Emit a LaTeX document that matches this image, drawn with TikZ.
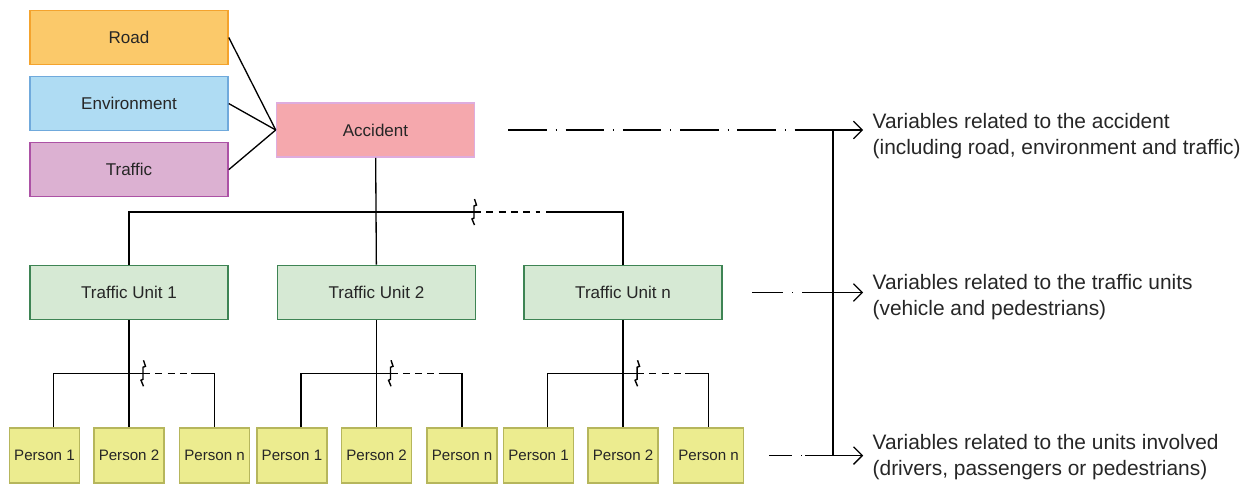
\documentclass[tikz,border=0pt]{standalone}
\usepackage{fontspec}
\setmainfont{Liberation Sans}
\usepackage{tikz}
\usetikzlibrary{positioning,calc,arrows.meta}
\definecolor{roadfill}{RGB}{251,201,106}
\definecolor{roaddraw}{RGB}{244,163,45}
\definecolor{envfill}{RGB}{175,220,243}
\definecolor{envdraw}{RGB}{112,170,220}
\definecolor{trffill}{RGB}{220,177,210}
\definecolor{trfdraw}{RGB}{172,82,165}
\definecolor{accfill}{RGB}{245,168,173}
\definecolor{accdraw}{RGB}{222,172,222}
\definecolor{unitfill}{RGB}{214,233,212}
\definecolor{unitdraw}{RGB}{62,132,84}
\definecolor{persfill}{RGB}{236,236,143}
\definecolor{persdraw}{RGB}{182,182,92}
\newcommand{\cutmark}[1]{\draw[line width=0.8pt] ($(#1)+(0.5,-13)$) -- ++(2,6) -- ++(-2.5,1) -- ++(0,12) -- ++(-2,1) -- ++(2.5,6);}

\begin{document}
\begin{tikzpicture}[x=0.02cm,y=-0.02cm,line width=0.75pt,
    font=\fontsize{9.7}{11}\selectfont,
    >={Straight Barb[length=5pt,width=10pt]}]
\tikzstyle{box}=[draw,line width=0.9pt,minimum width=3.96cm,minimum height=1.08cm,inner sep=0pt,text=black!85]
\tikzstyle{unit}=[box,fill=unitfill,draw=unitdraw]
\tikzstyle{person}=[box,fill=persfill,draw=persdraw,minimum width=1.4cm,minimum height=1.1cm,font=\fontsize{8.6}{10}\selectfont]
\tikzstyle{varlab}=[anchor=west,align=left,inner sep=0pt,text=black!85,font=\fontsize{11.9}{14.8}\selectfont]
\tikzset{chainline/.style={dash pattern=on #1 off 5pt on 0.6pt off 5pt}}

\useasboundingbox (0,0) rectangle (1250,486);

% accident and what feeds it
\node[box,fill=roadfill,draw=roaddraw] (road) at (129,37.5) {Road};
\node[box,fill=envfill,draw=envdraw,below=0.21cm of road] (env) {Environment};
\node[box,fill=trffill,draw=trfdraw,below=0.21cm of env] (trf) {Traffic};
\node[box,fill=accfill,draw=accdraw] (acc) at (375.5,130) {Accident};
\draw (road.east) -- (acc.west);
\draw (env.east) -- (acc.west);
\draw (trf.east) -- (acc.west);

% traffic units
\node[unit] (tu1) at (129,292.5) {Traffic Unit 1};
\node[unit,right=0.96cm of tu1] (tu2) {Traffic Unit 2};
\node[unit,right=0.94cm of tu2] (tun) {Traffic Unit n};
\draw (acc) -- (tu2);
\coordinate (cut0) at (474,212);
\draw (tu1) |- (cut0);
\draw[dash pattern=on 4pt off 3pt] (cut0) -- ++(66,0);
\draw ($(cut0)+(72,0)$) -| (tun);
\cutmark{cut0}

% persons below each unit
\foreach \u in {1,2,n}{
  \node[person,below=2.14cm of tu\u] (p\u-2) {Person 2};
  \node[person,left=0.26cm of p\u-2] (p\u-1) {Person 1};
  \node[person,right=0.28cm of p\u-2] (p\u-n) {Person n};
  \draw (tu\u) -- (p\u-2);
  \coordinate (cut\u) at ($(p\u-2.north)+(14,-54)$);
  \draw ($(p\u-1.north)+(9,0)$) |- (cut\u);
  \draw[dash pattern=on 4pt off 3pt] (cut\u) -- ++(48,0) coordinate (e\u);
  \draw (e\u) -| (p\u-n);
  \cutmark{cut\u}
}

% variables
\node[varlab] (vacc) at (872,136) {Variables related to the accident\\(including road, environment and traffic)};
\node[varlab] (vunit) at (872,297) {Variables related to the traffic units\\(vehicle and pedestrians)};
\node[varlab] (vpers) at (872,457) {Variables related to the units involved\\(drivers, passengers or pedestrians)};

\coordinate (s1) at (805,0 |- acc.east);
\coordinate (s2) at (803,0 |- tun.east);
\coordinate (s3) at (805,0 |- pn-n.east);
\coordinate (sp) at (833,0);
\draw[chainline=22pt] ($(acc.east)+(33,0)$) -- (s1);
\draw[chainline=18pt] ($(tun.east)+(29,0)$) -- (s2);
\draw[chainline=13pt] ($(pn-n.east)+(25,0)$) -- (s3);
\draw[->,shorten >=5pt] (s1) -- (s1 -| vacc.west);
\draw[->,shorten >=5pt] (s2) -- (s2 -| vunit.west);
\draw[->,shorten >=5pt] (s3) -- (s3 -| vpers.west);
\draw (s1 -| sp) -- (s3 -| sp);
\end{tikzpicture}
\end{document}
